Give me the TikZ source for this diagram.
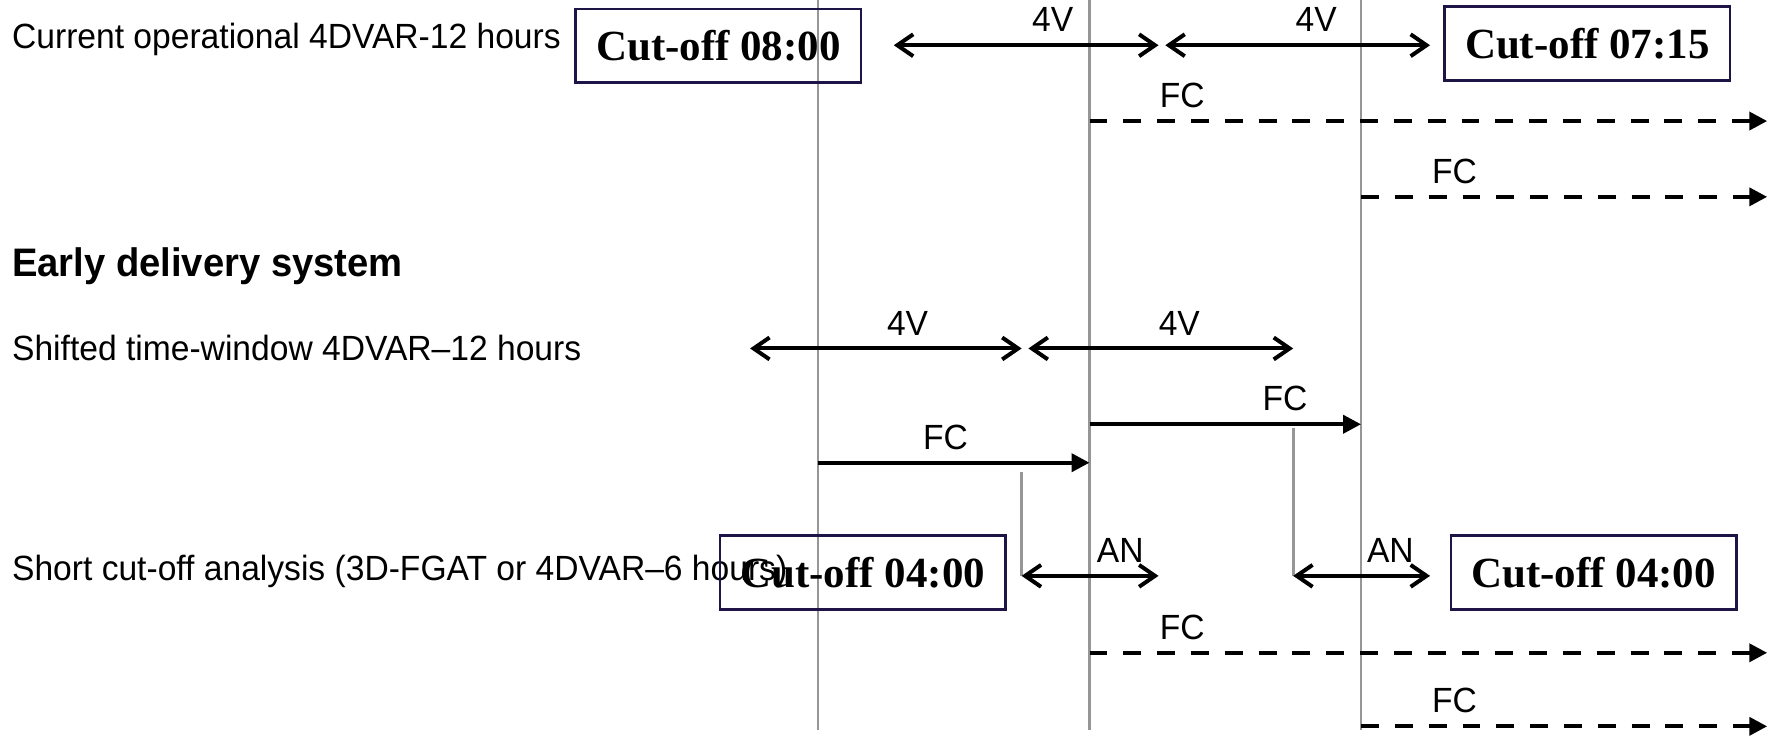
\documentclass[tikz,border=0pt]{standalone}
\usepackage{fontspec}
\setmainfont{Liberation Sans}
\newfontfamily\timesfont{Liberation Serif}
\newfontfamily\narrowsans[FakeStretch=0.96,Ligatures=TeX]{Liberation Sans}
\usetikzlibrary{arrows.meta,positioning,calc}
\definecolor{cutnavy}{RGB}{30,20,70}
\definecolor{axisgray}{RGB}{150,150,150}

\begin{document}
\begin{tikzpicture}[x=0.01cm,y=-0.01cm,
  lbl/.style={font=\narrowsans\fontsize{8.8}{10}\selectfont,anchor=west,inner sep=0pt},
  head/.style={font=\narrowsans\bfseries\fontsize{10}{11}\selectfont,anchor=west,inner sep=0pt},
  cutbox/.style={draw=cutnavy,line width=0.7pt,
                 minimum width=2.52cm,minimum height=0.65cm,inner sep=0pt,
                 font=\timesfont\bfseries\fontsize{10.8}{13}\selectfont},
  tag/.style={font=\narrowsans\fontsize{8.8}{10}\selectfont,inner sep=0pt,above=0.1cm},
  axis/.style={draw=axisgray,line width=0.7pt},
  twoway/.style={line width=1pt,
    {Straight Barb[length=4pt,width=5.5pt]}-{Straight Barb[length=4pt,width=5.5pt]}},
  run/.style={line width=1pt,-{Triangle[length=4.5pt,width=4.5pt]}},
  fcast/.style={run,dash pattern=on 4.5pt off 4pt}
]
\useasboundingbox (0,0) rectangle (1568,652);

% time axes
\foreach \x/\n in {723/a,963/b,1203/c}{
  \coordinate (\n-top) at (\x,0);
  \coordinate (\n-bot) at (\x,645);
  \draw[axis] (\n-top) -- (\n-bot);
}

% row labels
\node[lbl]  (cur)   at (10,35)  {Current operational 4DVAR-12 hours};
\node[head] (early) at (10,235) {Early delivery system};
\node[lbl]  (shift) at (10,308) {Shifted time-window 4DVAR–12 hours};
\node[lbl]  (short) at (10,505) {Short cut-off analysis (3D-FGAT or 4DVAR–6 hours)};

% cut-off boxes
\node[cutbox] (cut08)  at (635,40.5)  {Cut-off 08:00};
\node[cutbox] (cut07)  at (1403,38.5) {Cut-off 07:15};
\node[cutbox] (cut04a) at (762.5,506) {Cut-off 04:00};
\node[cutbox] (cut04b) at (1408.5,506) {Cut-off 04:00};

% current operational
\coordinate (cv1s) at (790,40);  \coordinate (cv1e) at (1024,40);
\coordinate (cv2s) at (1030,40); \coordinate (cv2e) at (1264,40);
\draw[twoway] (cv1s) -- node[tag,pos=0.6]{4V} (cv1e);
\draw[twoway] (cv2s) -- node[tag,pos=0.57]{4V} (cv2e);
\coordinate (cf1s) at (963,107);  \coordinate (cf1e) at (1562,107);
\coordinate (cf2s) at (1203,174); \coordinate (cf2e) at (1562,174);
\draw[fcast] (cf1s) -- node[tag,pos=0.137]{FC} (cf1e);
\draw[fcast] (cf2s) -- node[tag,pos=0.23]{FC} (cf2e);

% shifted time-window
\coordinate (sv1s) at (663,308); \coordinate (sv1e) at (903,308);
\coordinate (sv2s) at (909,308); \coordinate (sv2e) at (1143,308);
\draw[twoway] (sv1s) -- node[tag,pos=0.58]{4V} (sv1e);
\draw[twoway] (sv2s) -- node[tag,pos=0.57]{4V} (sv2e);
\coordinate (sf1s) at (963,375); \coordinate (sf1e) at (1203,375);
\coordinate (sf2s) at (723,409); \coordinate (sf2e) at (963,409);
\draw[run] (sf1s) -- node[tag,pos=0.72]{FC} (sf1e);
\draw[run] (sf2s) -- node[tag,pos=0.47]{FC} (sf2e);

% short cut-off analysis
\coordinate (an1s) at (903,509);  \coordinate (an1e) at (1024,509);
\coordinate (an2s) at (1143,509); \coordinate (an2e) at (1264,509);
\coordinate (an1t) at (903,417);  \coordinate (an2t) at (1143,378);
\draw[axis] (an1t) -- (an1s);
\draw[axis] (an2t) -- (an2s);
\draw[twoway] (an1s) -- node[tag,pos=0.72]{AN} (an1e);
\draw[twoway] (an2s) -- node[tag,pos=0.71]{AN} (an2e);
\coordinate (af1s) at (963,577);  \coordinate (af1e) at (1562,577);
\coordinate (af2s) at (1203,642); \coordinate (af2e) at (1562,642);
\draw[fcast] (af1s) -- node[tag,pos=0.137]{FC} (af1e);
\draw[fcast] (af2s) -- node[tag,pos=0.23]{FC} (af2e);
\end{tikzpicture}
\end{document}
